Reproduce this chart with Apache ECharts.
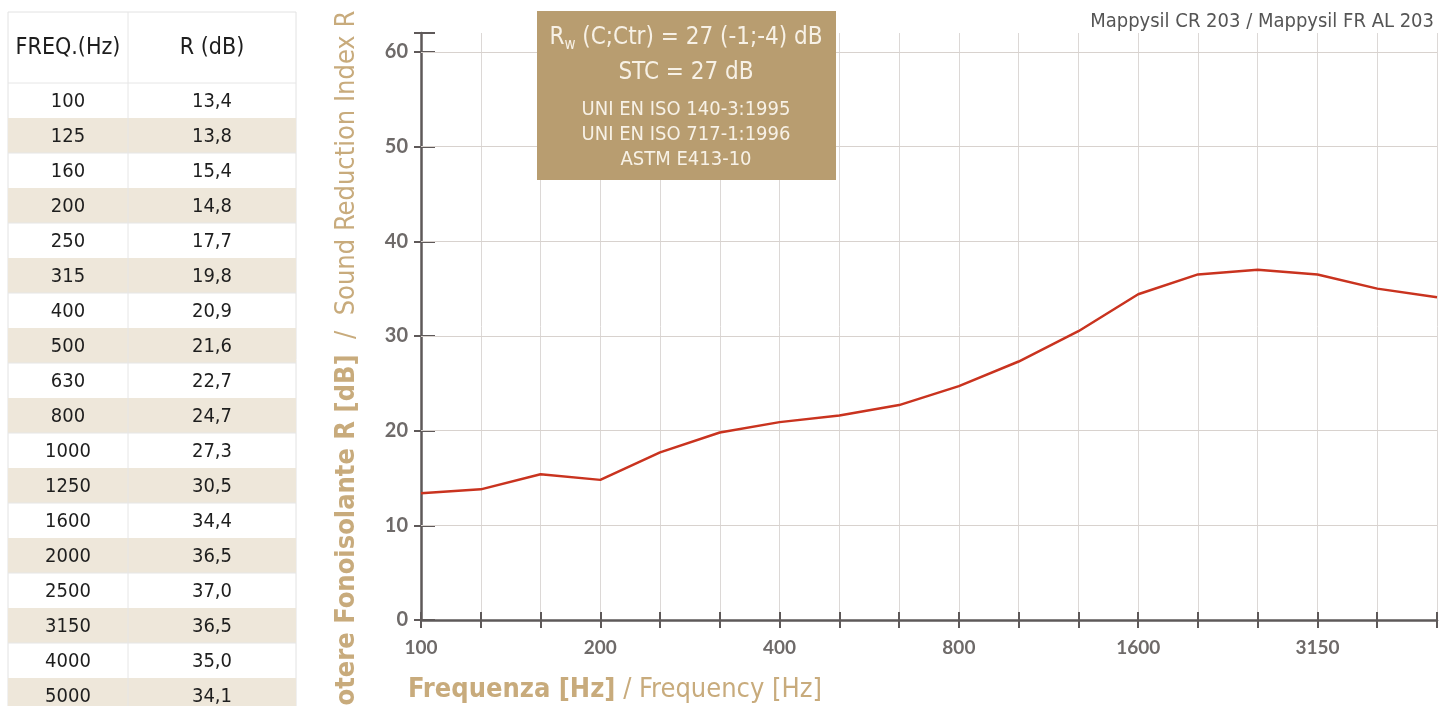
<!DOCTYPE html>
<html>
<head>
<meta charset="utf-8">
<script src="https://cdn.jsdelivr.net/npm/echarts@6/dist/echarts.min.js"></script>
<style>
html, body { margin: 0; padding: 0; background: #fff; }
#chart { width: 1454px; height: 706px; }
</style>
</head>
<body>
<div id="chart"></div>
<script>
// bande di terzo d'ottava e potere fonoisolante R
var freqs = ['100', '125', '160', '200', '250', '315', '400', '500', '630', '800', '1000', '1250', '1600', '2000', '2500', '3150', '4000', '5000'];
var rValues = [13.4, 13.8, 15.4, 14.8, 17.7, 19.8, 20.9, 21.6, 22.7, 24.7, 27.3, 30.5, 34.4, 36.5, 37.0, 36.5, 35.0, 34.1];
var yTicks = [10, 20, 30, 40, 50, 60];
var tableHeader = ['FREQ.(Hz)', 'R (dB)'];
var boxLines = ['STC = 27 dB', 'UNI EN ISO 140-3:1995', 'UNI EN ISO 717-1:1996', 'ASTM E413-10'];

var narrow = '"Liberation Sans Narrow","DejaVu Sans Condensed",sans-serif';
var tan = '#c8ab7c';
var axisGray = '#5e5959';
var labelGray = '#6e6a69';

/**
 * tabella a sinistra
 */
function buildTable() {
    var els = [];
    var tx = 8, tw = 288, split = 128, ty = 12, headH = 71, rowH = 35;
    var totalH = headH + rowH * freqs.length;
    els.push({ type: 'rect', shape: { x: tx, y: ty, width: tw, height: totalH }, style: { fill: '#fff', stroke: '#e2e2e2', lineWidth: 1 } });
    freqs.forEach(function (f, i) {
        var y = ty + headH + i * rowH;
        if (i % 2 === 1) {
            els.push({ type: 'rect', shape: { x: tx, y: y, width: tw, height: rowH }, style: { fill: '#eee7da' } });
        } else {
            els.push({ type: 'line', shape: { x1: tx, y1: y, x2: tx + tw, y2: y }, style: { stroke: '#e6e6e6', lineWidth: 1 } });
        }
        els.push({ type: 'text', x: (tx + split) / 2, y: y + rowH / 2 + 1, style: { text: f, font: '20px ' + narrow, fill: '#1e1e1e', textAlign: 'center', textVerticalAlign: 'middle' } });
        els.push({ type: 'text', x: (split + tx + tw) / 2, y: y + rowH / 2 + 1, style: { text: rValues[i].toFixed(1).replace('.', ','), font: '20px ' + narrow, fill: '#1e1e1e', textAlign: 'center', textVerticalAlign: 'middle' } });
    });
    els.push({ type: 'line', shape: { x1: split, y1: ty, x2: split, y2: ty + totalH }, style: { stroke: '#e6e6e6', lineWidth: 1 } });
    els.push({ type: 'text', x: (tx + split) / 2, y: ty + headH / 2 + 1, style: { text: tableHeader[0], font: '23px ' + narrow, fill: '#1e1e1e', textAlign: 'center', textVerticalAlign: 'middle' } });
    els.push({ type: 'text', x: (split + tx + tw) / 2, y: ty + headH / 2 + 1, style: { text: tableHeader[1], font: '23px ' + narrow, fill: '#1e1e1e', textAlign: 'center', textVerticalAlign: 'middle' } });
    return els;
}

// riquadro valori Rw / STC
function buildBox() {
    var els = [];
    els.push({ type: 'rect', z: 100, shape: { x: 537, y: 11, width: 299, height: 169 }, style: { fill: '#b89d70' } });
    els.push({
        type: 'text', z: 101, x: 686, y: 38,
        style: {
            text: '{r|R}{w|w}{r| (C;Ctr) = 27 (-1;-4) dB}',
            textAlign: 'center', textVerticalAlign: 'middle',
            rich: {
                r: { fontSize: 24, fontFamily: narrow, fill: '#f7f1e6' },
                w: { fontSize: 15, fontFamily: narrow, fill: '#f7f1e6', padding: [14, 0, 0, 0] }
            }
        }
    });
    els.push({ type: 'text', z: 101, x: 686, y: 73, style: { text: boxLines[0], font: '24px ' + narrow, fill: '#f7f1e6', textAlign: 'center', textVerticalAlign: 'middle' } });
    [110, 135, 160].forEach(function (y, k) {
        els.push({ type: 'text', z: 101, x: 686, y: y, style: { text: boxLines[k + 1], font: '20px ' + narrow, fill: '#f7f1e6', textAlign: 'center', textVerticalAlign: 'middle' } });
    });
    return els;
}

var myChart = echarts.init(document.getElementById('chart'), null, { renderer: 'canvas' });

var option = {
    backgroundColor: '#fff',
    animation: false,
    grid: { left: 421, right: 17, top: 33, bottom: 86, outerBoundsMode: 'none' },
    xAxis: [{
        type: 'category',
        position: 'bottom',
        data: freqs,
        boundaryGap: false,
        axisLine: { lineStyle: { color: axisGray, width: 2.5 } },
        axisTick: { show: true, interval: 0, length: 8, lineStyle: { color: axisGray, width: 2 } },
        axisLabel: { interval: 2, margin: 18, fontSize: 19, fontWeight: 'bold', fontFamily: 'Lato', color: labelGray },
        splitLine: { show: true, interval: 0, lineStyle: { color: '#dcd8d6', width: 1 } }
    }, {
        type: 'category',
        position: 'bottom',
        data: freqs,
        boundaryGap: false,
        axisLine: { show: false },
        axisTick: { show: true, inside: true, interval: 0, length: 8, lineStyle: { color: axisGray, width: 2 } },
        axisLabel: { show: false },
        splitLine: { show: false }
    }],
    yAxis: [{
        type: 'value',
        position: 'left',
        min: 0,
        max: 62,
        interval: 10,
        axisLine: { show: true, lineStyle: { color: axisGray, width: 2.5 } },
        axisTick: { show: true, length: 7, lineStyle: { color: axisGray, width: 2 } },
        axisLabel: {
            margin: 13, fontSize: 20, fontWeight: 'bold', fontFamily: 'Lato', color: labelGray,
            formatter: function (v) { return v % 10 === 0 ? String(v) : ''; }
        },
        splitLine: { show: false }
    }, {
        type: 'value',
        position: 'left',
        min: 0,
        max: 62,
        interval: 10,
        axisLine: { show: false },
        axisTick: { show: true, inside: true, length: 14, lineStyle: { color: axisGray, width: 2 } },
        axisLabel: { show: false },
        splitLine: { show: false }
    }],
    series: [{
        type: 'line',
        xAxisIndex: 0,
        yAxisIndex: 0,
        data: rValues,
        showSymbol: false,
        z: 5,
        lineStyle: { color: '#c9331f', width: 2.5 },
        markLine: {
            silent: true,
            symbol: 'none',
            label: { show: false },
            z: 1,
            lineStyle: { color: '#d8d2ce', width: 1, type: 'solid' },
            data: yTicks.map(function (v) { return { yAxis: v }; })
        }
    }],
    graphic: buildTable().concat(buildBox()).concat([
        { type: 'text', x: 1434, y: 22, style: { text: 'Mappysil CR 203 / Mappysil FR AL 203', font: '20px ' + narrow, fill: '#555', textAlign: 'right', textVerticalAlign: 'middle' } },
        {
            type: 'text', x: 408, y: 690,
            style: {
                text: '{b|Frequenza [Hz]}{n| / Frequency [Hz]}',
                textAlign: 'left', textVerticalAlign: 'middle',
                rich: {
                    b: { fontSize: 27, fontWeight: 'bold', fontFamily: narrow, fill: tan },
                    n: { fontSize: 27, fontFamily: narrow, fill: tan }
                }
            }
        },
        {
            type: 'text', x: 347, y: 367, rotation: Math.PI / 2,
            style: {
                text: '{b|Potere Fonoisolante R [dB]}{n|  /  Sound Reduction Index R}',
                textAlign: 'center', textVerticalAlign: 'middle',
                rich: {
                    b: { fontSize: 27, fontWeight: 'bold', fontFamily: narrow, fill: tan },
                    n: { fontSize: 27, fontFamily: narrow, fill: tan }
                }
            }
        }
    ])
};

myChart.setOption(option);
</script>
</body>
</html>
